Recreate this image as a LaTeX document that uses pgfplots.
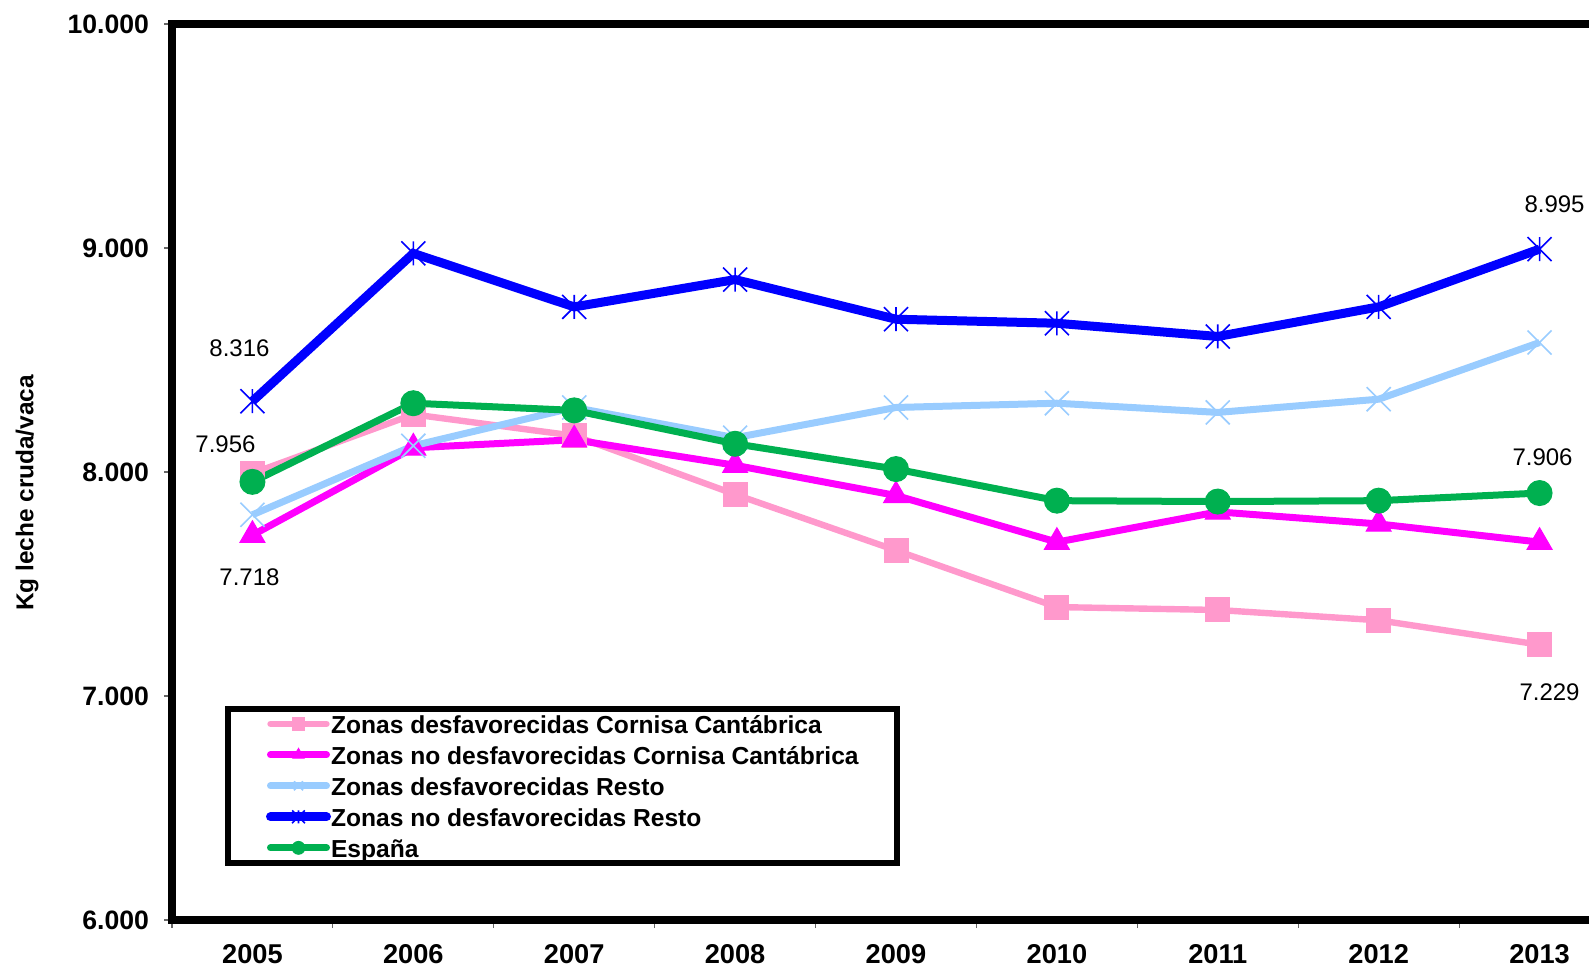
\documentclass[border=0pt]{standalone}
\usepackage{fontspec}
\setmainfont{Liberation Sans}
\usepackage{pgfplots}
\pgfplotsset{compat=1.18}

\definecolor{zdcc}{HTML}{FF99CC}
\definecolor{zncc}{HTML}{FF00FF}
\definecolor{zdr}{HTML}{99CCFF}
\definecolor{znr}{HTML}{0000FF}
\definecolor{esp}{HTML}{00B050}

% Excel-style star: vertical bar plus an x
\pgfdeclareplotmark{xstar}{%
  \pgfpathmoveto{\pgfqpoint{0pt}{-\pgfplotmarksize}}%
  \pgfpathlineto{\pgfqpoint{0pt}{\pgfplotmarksize}}%
  \pgfpathmoveto{\pgfqpoint{-\pgfplotmarksize}{-\pgfplotmarksize}}%
  \pgfpathlineto{\pgfqpoint{\pgfplotmarksize}{\pgfplotmarksize}}%
  \pgfpathmoveto{\pgfqpoint{-\pgfplotmarksize}{\pgfplotmarksize}}%
  \pgfpathlineto{\pgfqpoint{\pgfplotmarksize}{-\pgfplotmarksize}}%
  \pgfusepathqstroke}

\begin{document}
\begin{tikzpicture}
\begin{axis}[
    at={(0pt,0pt)}, anchor=south west,
    scale only axis, width=724pt, height=448pt,
    xmin=2004.5, xmax=2013.5, ymin=6000, ymax=10000,
    xtick={2005,2006,2007,2008,2009,2010,2011,2012,2013},
    xticklabels={2005,2006,2007,2008,2009,2010,2011,2012,2013},
    minor xtick={2004.5,2005.5,2006.5,2007.5,2008.5,2009.5,2010.5,2011.5,2012.5,2013.5},
    ytick={6000,7000,8000,9000,10000},
    scaled y ticks=false,
    xtick pos=bottom, ytick pos=left,
    tick align=outside,
    major tick length=4pt, minor tick length=4pt,
    tick style={black!60, line width=0.6pt},
    major x tick style={draw=none},
    axis line style={line width=4pt, black},
    /pgf/number format/.cd, fixed, 1000 sep={.}, assume math mode=true,
    /pgfplots/.cd,
    yticklabel style={font=\bfseries\fontsize{13.3}{15}\selectfont, xshift=-4pt},
    xticklabel style={font=\bfseries\fontsize{13.6}{15}\selectfont, yshift=-4.5pt},
    ylabel={Kg leche cruda/vaca},
    every axis y label/.style={at={(axis description cs:-0.1001,0.4766)}, rotate=90, anchor=center,
        font=\bfseries\fontsize{12.2}{14}\selectfont},
    legend cell align=left,
    legend style={at={(axis description cs:0.0366,0.239)}, anchor=north west,
        draw=black, line width=3pt, inner xsep=19pt, inner ysep=1.5pt,
        row sep=3.5pt, column sep=0pt,
        font=\bfseries\fontsize{12.3}{14}\selectfont,
        nodes={inner sep=0pt, text height=11pt, text depth=1pt}},
    legend image code/.code={
        \draw[#1, line cap=round] (0pt,0pt) -- (28pt,0pt);
        \path[#1, mark size=3.2pt] plot coordinates {(14pt,0pt)};
    },
]

% Zonas desfavorecidas Cornisa Cantabrica
\addplot[color=zdcc, line width=3.2pt, mark=square*, mark size=6pt,
    mark options={line width=0.5pt}] coordinates {
    (2005,7994) (2006,8257) (2007,8162) (2008,7900) (2009,7650)
    (2010,7397) (2011,7384) (2012,7338) (2013,7229)};

% Zonas no desfavorecidas Cornisa Cantabrica
\addplot[color=zncc, line width=3.5pt, mark=triangle*, mark size=7.2pt,
    mark options={line width=0.5pt}] coordinates {
    (2005,7718) (2006,8108) (2007,8144) (2008,8030) (2009,7895)
    (2010,7687) (2011,7822) (2012,7768) (2013,7687)};

% Zonas desfavorecidas Resto
\addplot[color=zdr, line width=3.5pt, mark=x, mark size=8.5pt,
    mark options={line width=0.8pt}] coordinates {
    (2005,7809) (2006,8117) (2007,8288) (2008,8153) (2009,8288)
    (2010,8307) (2011,8266) (2012,8325) (2013,8578)};

% Zonas no desfavorecidas Resto
\addplot[color=znr, line width=4.5pt, mark=xstar, mark size=6pt,
    mark options={line width=0.8pt}] coordinates {
    (2005,8316) (2006,8976) (2007,8737) (2008,8859) (2009,8682)
    (2010,8664) (2011,8605) (2012,8737) (2013,8995)};

% Espana
\addplot[color=esp, line width=3.5pt, mark=*, mark size=6.25pt,
    mark options={line width=0.5pt}] coordinates {
    (2005,7956) (2006,8307) (2007,8275) (2008,8126) (2009,8013)
    (2010,7872) (2011,7868) (2012,7872) (2013,7906)};

\legend{Zonas desfavorecidas Cornisa Cantábrica,
        Zonas no desfavorecidas Cornisa Cantábrica,
        Zonas desfavorecidas Resto,
        Zonas no desfavorecidas Resto,
        España}

\node[font=\fontsize{12}{14}\selectfont, xshift=-6.5pt, yshift=26.5pt] at (axis cs:2005,8316) {8.316};
\node[font=\fontsize{12}{14}\selectfont, xshift=-13.5pt, yshift=19pt] at (axis cs:2005,7956) {7.956};
\node[font=\fontsize{12}{14}\selectfont, xshift=-1.5pt, yshift=-21pt] at (axis cs:2005,7718) {7.718};
\node[font=\fontsize{12}{14}\selectfont, xshift=7.5pt, yshift=22.5pt] at (axis cs:2013,8995) {8.995};
\node[font=\fontsize{12}{14}\selectfont, xshift=1.5pt, yshift=18pt] at (axis cs:2013,7906) {7.906};
\node[font=\fontsize{12}{14}\selectfont, xshift=5pt, yshift=-24pt] at (axis cs:2013,7229) {7.229};
\end{axis}
\pgfresetboundingbox
\useasboundingbox (-86pt,-24pt) rectangle (708.5pt,460pt);
\end{tikzpicture}
\end{document}
